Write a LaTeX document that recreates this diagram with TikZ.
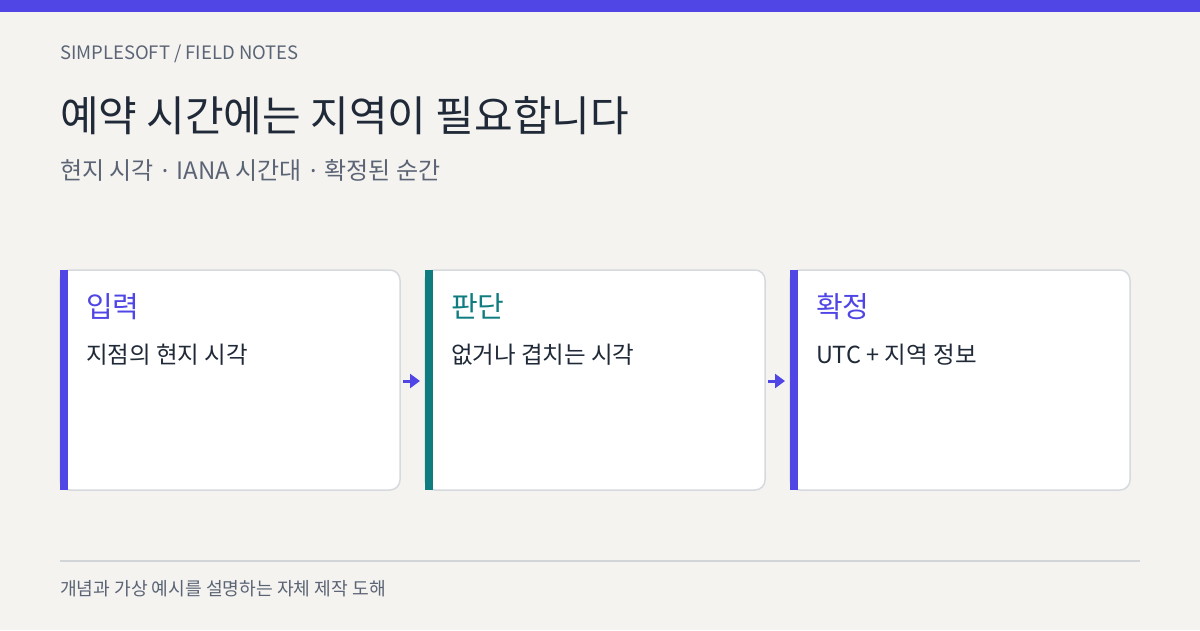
\documentclass[tikz,border=0pt]{standalone}
\usepackage{fontspec}
\setmainfont{Noto Sans CJK KR}
\newfontfamily\latinfont{Noto Sans}
\definecolor{bg}{HTML}{F4F3F0}
\definecolor{indigo}{HTML}{4F46E5}
\definecolor{teal}{HTML}{0F7C80}
\definecolor{ink}{HTML}{1F2937}
\definecolor{slate}{HTML}{5B6475}
\definecolor{border}{HTML}{D6D9DE}
\definecolor{rule}{HTML}{D1D5D8}
\newcommand{\sdot}{\hspace{0.12em}{\latinfont ·}\hspace{0.12em}}
\tikzset{
  x=1pt,y=-1pt,
  txt/.style={anchor=base west,inner sep=0pt,outer sep=0pt},
  card/.style={draw=border,line width=1.5pt,fill=white,rounded corners=10pt},
  flow/.style={draw=indigo,line width=3pt,-{Triangle[length=10pt,width=14pt]}},
}
\usetikzlibrary{arrows.meta}
\begin{document}
\begin{tikzpicture}
\fill[bg] (0,0) rectangle (1200,630);
\useasboundingbox (0,0) rectangle (1200,630);
\fill[indigo] (0,0) rectangle (1200,12);
\node[txt,text=slate,font=\fontsize{18.5}{20}\selectfont] (kicker) at (60,59) {SIMPLESOFT / FIELD NOTES};
\node[txt,text=ink,font=\fontsize{42}{46}\selectfont] (title) at (60,131) {예약 시간에는 지역이 필요합니다};
\node[txt,text=slate,font=\fontsize{24}{28}\selectfont] (sub) at (60,179) {현지 시각 \sdot{} IANA 시간대 \sdot{} 확정된 순간};
% cards
\foreach \i/\x/\c/\h/\b in {1/60/indigo/입력/지점의 현지 시각, 2/425/teal/판단/없거나 겹치는 시각, 3/790/indigo/확정/UTC + 지역 정보}{
  \draw[card] (\x,270) rectangle ++(340,220);
  \fill[\c] (\x,270) rectangle ++(8,220);
  \coordinate (c\i w) at (\x,381);
  \coordinate (c\i e) at (\x+340,381);
  \node[txt,text=\c,font=\fontsize{29}{33}\selectfont] (h\i) at (\x+26,317) {\h};
  \node[txt,text=ink,font=\fontsize{23.5}{27}\selectfont] (b\i) at (\x+26,363) {\b};
}
\coordinate (a1s) at (403,381);
\coordinate (a1e) at (420,381);
\coordinate (a2s) at (768,381);
\coordinate (a2e) at (785,381);
\draw[flow] (a1s) -- (a1e);
\draw[flow] (a2s) -- (a2e);
\coordinate (r1) at (60,561);
\coordinate (r2) at (1140,561);
\draw[rule,line width=1.5pt] (r1) -- (r2);
\node[txt,text=slate,font=\fontsize{18.2}{21}\selectfont] (foot) at (60,595) {개념과 가상 예시를 설명하는 자체 제작 도해};
\end{tikzpicture}
\end{document}
